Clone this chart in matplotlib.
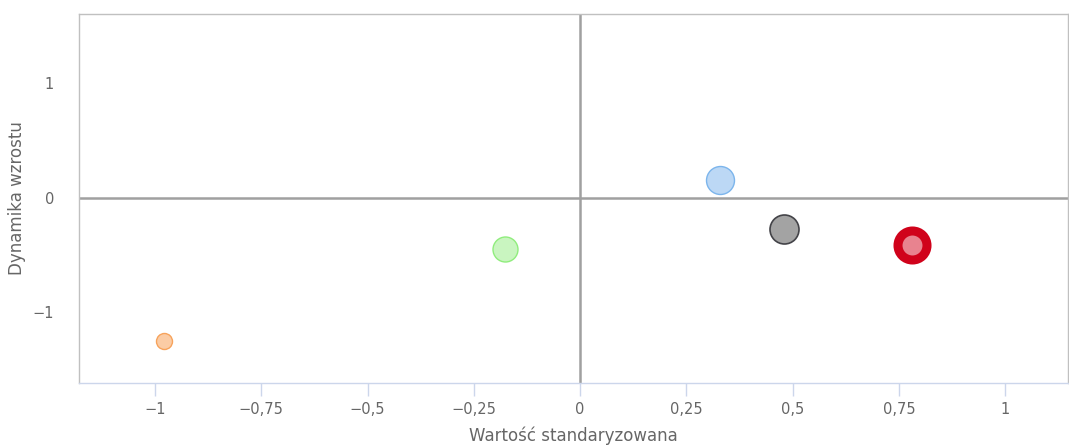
import matplotlib
matplotlib.use("Agg")
import matplotlib.pyplot as plt
from matplotlib.ticker import FuncFormatter

# Data
names = ["A", "B", "C", "D", "E"]
x_vals = [-0.98, -0.176, 0.330, 0.480, 0.781]
y_vals = [-1.25, -0.445, 0.157, -0.27, -0.41]
sizes = [133, 324, 406, 436, 436]
face_colors = ["#fbcca5", "#c9f5c0", "#bcd8f5", "#a3a3a3", "#e8838f"]
edge_colors = ["#f7a35c", "#90ed7d", "#7cb5ec", "#434348", "#d0021b"]
edge_widths = [1.0, 1.0, 1.0, 1.2, 6.5]

x_ticks = [-1, -0.75, -0.5, -0.25, 0, 0.25, 0.5, 0.75, 1]
y_ticks = [-1, 0, 1]

plt.rcParams['font.family'] = ['DejaVu Sans']

fig = plt.figure(figsize=(10.69, 4.48), dpi=100)
ax = fig.add_axes([79/1069, 1 - 383/448, (1068-79)/1069, (383-14)/448])

ax.set_xlim(-1.179, 1.148)
ax.set_ylim(-1.616, 1.607)

ax.axhline(0, color="#a0a0a0", lw=1.8, zorder=1)
ax.axvline(0, color="#a0a0a0", lw=1.8, zorder=1)

for xv, yv, s, fc, ec, lw in zip(x_vals, y_vals, sizes, face_colors, edge_colors, edge_widths):
    ax.scatter([xv], [yv], s=s, c=fc, edgecolors=ec, linewidths=lw, zorder=3)

def fmt(v, pos):
    if abs(v) < 1e-9:
        return "0"
    s = ("%g" % v).replace(".", ",").replace("-", "\u2212")
    return s

ax.set_xticks(x_ticks)
ax.set_yticks(y_ticks)
ax.xaxis.set_major_formatter(FuncFormatter(fmt))
ax.yaxis.set_major_formatter(FuncFormatter(fmt))

ax.tick_params(axis="x", colors="#ccd6eb", length=9.5, width=1, labelcolor="#666666", labelsize=10.5, pad=4)
ax.tick_params(axis="y", length=0, labelcolor="#666666", labelsize=10.5, pad=18)

for side in ["top", "left", "right"]:
    ax.spines[side].set_color("#c0c0c0")
    ax.spines[side].set_linewidth(1)
ax.spines["bottom"].set_color("#ccd6eb")
ax.spines["bottom"].set_linewidth(1)

ax.set_xlabel("Wartość standaryzowana", color="#666666", fontsize=12)
ax.set_ylabel("Dynamika wzrostu", color="#666666", fontsize=12)
ax.xaxis.set_label_coords(0.5, -0.118)
ax.yaxis.set_label_coords(-0.054, 0.5)

fig.savefig("out.png", dpi=100)
